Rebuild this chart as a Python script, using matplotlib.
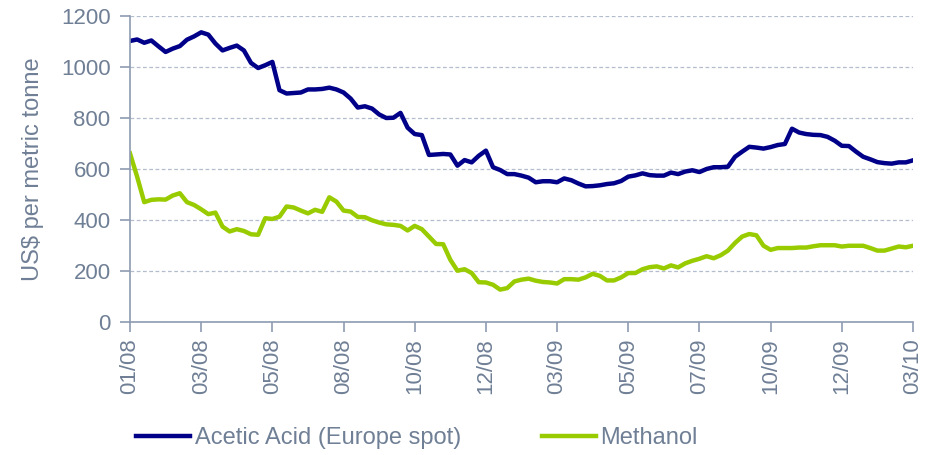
import numpy as np
import matplotlib
matplotlib.use("Agg")
import matplotlib.pyplot as plt

plt.rcParams['font.family'] = ['Liberation Sans', 'DejaVu Sans']

# weekly prices, US$ per metric tonne
acetic = [1102, 1108, 1095, 1104, 1081, 1059, 1072, 1082, 1107, 1120,
          1136, 1127, 1092, 1065, 1075, 1084, 1065, 1016, 996, 1007,
          1020, 909, 896, 898, 900, 912, 912, 914, 919, 912,
          900, 876, 841, 846, 837, 814, 800, 801, 820, 762,
          737, 733, 655, 657, 659, 657, 613, 635, 626, 652,
          672, 607, 596, 580, 580, 574, 566, 548, 552, 552,
          548, 563, 556, 543, 532, 533, 536, 541, 544, 553,
          570, 575, 583, 576, 574, 574, 586, 580, 590, 595,
          588, 600, 607, 607, 609, 648, 668, 687, 684, 680,
          686, 694, 698, 758, 743, 737, 734, 733, 726, 711,
          691, 690, 668, 648, 638, 627, 623, 621, 626, 626,
          634]
methanol = [661, 570, 470, 479, 481, 480, 496, 505, 470, 459,
            442, 423, 429, 374, 355, 364, 357, 344, 342, 407,
            404, 413, 453, 449, 437, 426, 440, 432, 489, 472,
            437, 433, 412, 411, 399, 390, 383, 381, 377, 359,
            377, 364, 335, 306, 305, 244, 201, 207, 192, 156,
            155, 146, 127, 133, 159, 166, 170, 162, 157, 155,
            151, 168, 168, 166, 175, 189, 181, 163, 163, 175,
            192, 192, 207, 215, 218, 210, 222, 214, 230, 240,
            248, 258, 250, 262, 280, 310, 335, 345, 340, 299,
            283, 290, 290, 290, 292, 292, 297, 301, 301, 301,
            296, 299, 299, 299, 290, 280, 280, 288, 296, 293,
            299]
tick_labels = ['01/08', '03/08', '05/08', '08/08', '10/08', '12/08',
               '03/09', '05/09', '07/09', '10/09', '12/09', '03/10']

text_col = '#6f7f95'
axis_col = '#8d9bb2'
grid_col = '#b3bdcd'

fig = plt.figure(figsize=(9.41, 4.55), dpi=100)
ax = fig.add_axes([130 / 941, 1 - 322 / 455, 783 / 941, 306 / 455])

x = np.arange(len(acetic))
ax.plot(x, acetic, color='#000088', lw=3.2, solid_joinstyle='round',
        label='Acetic Acid (Europe spot)')
ax.plot(x, methanol, color='#99cc00', lw=3.2, solid_joinstyle='round',
        label='Methanol')

ax.set_xlim(0, len(acetic) - 1)
ax.set_ylim(0, 1200)
ax.set_yticks(np.arange(0, 1201, 200))
ax.set_xticks(np.linspace(0, len(acetic) - 1, len(tick_labels)))
ax.set_xticklabels(tick_labels, rotation=90)

ax.grid(axis='y', color=grid_col, linestyle=(0, (3, 2)), lw=0.9)
ax.set_axisbelow(True)
for s in ['top', 'right']:
    ax.spines[s].set_visible(False)
for s in ['left', 'bottom']:
    ax.spines[s].set_color(axis_col)
    ax.spines[s].set_linewidth(1.2)
ax.tick_params(axis='both', colors=axis_col, labelcolor=text_col,
               labelsize=16, length=7, width=1.2)
ax.tick_params(axis='y', pad=7)
ax.tick_params(axis='x', pad=5)

ax.set_ylabel('US$ per metric tonne', fontsize=17, color=text_col, labelpad=12)

fig.legend(loc='center left', bbox_to_anchor=(136 / 941, 17 / 455),
           ncol=2, frameon=False, fontsize=17, labelcolor=text_col,
           handlelength=2.3, handletextpad=0.2, columnspacing=3.4,
           borderaxespad=0, borderpad=0)

fig.savefig('out.png', dpi=100)
